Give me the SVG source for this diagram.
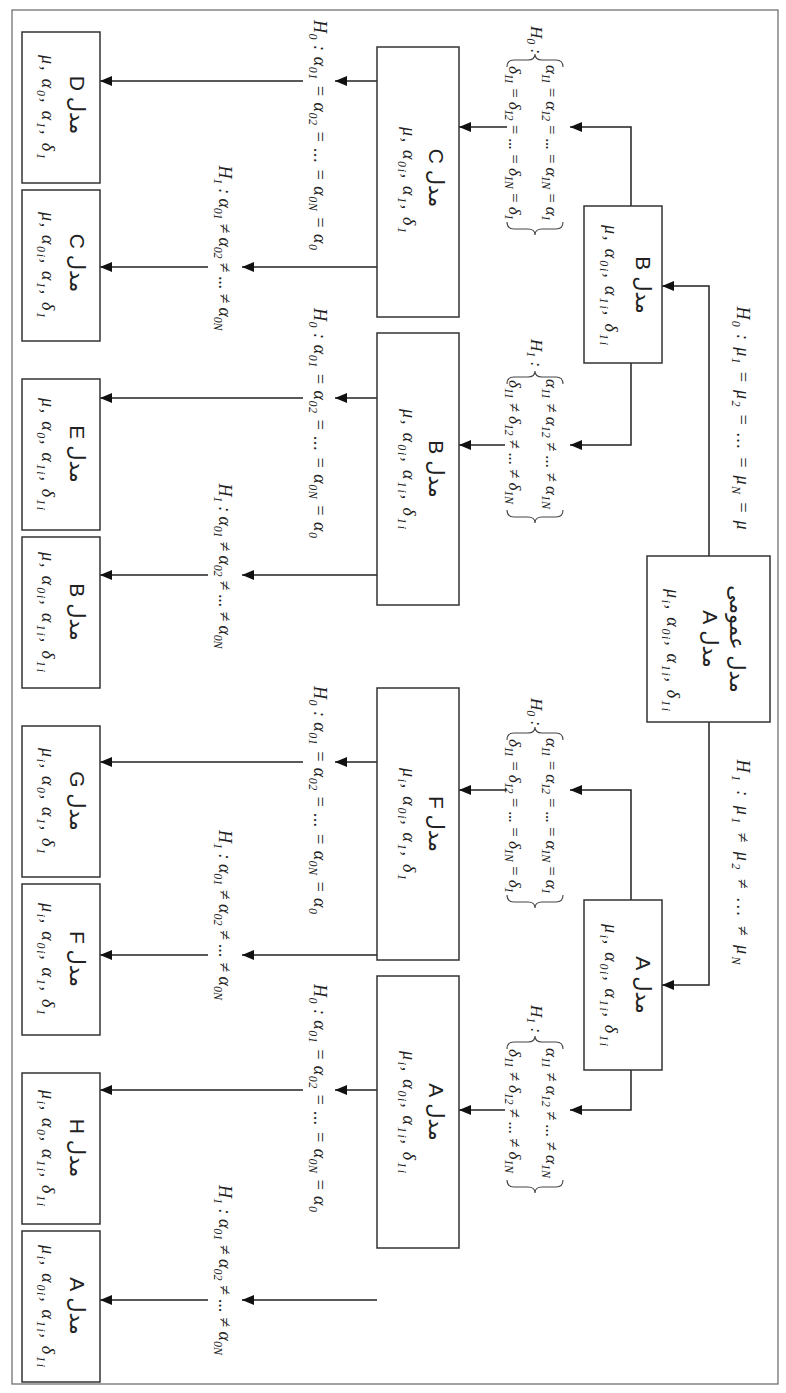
<svg xmlns="http://www.w3.org/2000/svg" width="786" height="1393" viewBox="0 0 786 1393">
<defs>
<marker id="ah" markerWidth="12" markerHeight="10" refX="12" refY="5" orient="auto" markerUnits="userSpaceOnUse"><path d="M0,0 L12,5 L0,10 z" fill="#111"/></marker>
<style>
.box{fill:#fff;stroke:#333;stroke-width:1.5}
.ln{fill:none;stroke:#222;stroke-width:1.5}
.ar{marker-end:url(#ah)}
.br{fill:none;stroke:#444;stroke-width:1.1}
.fa{font-family:"Liberation Sans","DejaVu Sans",sans-serif;font-size:21px;fill:#222;direction:rtl;text-anchor:middle}
.m{font-family:"Liberation Serif","DejaVu Serif",serif;font-style:italic;font-size:18px;fill:#222;text-anchor:middle}
.b{font-size:17px}
.sb{font-size:12px}
</style>
</defs>
<rect x="12" y="10" width="766" height="1374" fill="none" stroke="#666" stroke-width="1.2"/>

<g id="connectors">
<path class="ln ar" d="M709,556 V286 H662"/>
<path class="ln ar" d="M709,722 V985 H662"/>
<path class="ln ar" d="M631,206 V127 H570"/><path class="ln ar" d="M507,127 H459"/>
<path class="ln ar" d="M631,363 V445 H570"/><path class="ln ar" d="M505,445 H459"/>
<path class="ln ar" d="M631,900 V790 H570"/><path class="ln ar" d="M507,790 H459"/>
<path class="ln ar" d="M631,1070 V1110 H570"/><path class="ln ar" d="M505,1110 H459"/>
<path class="ln ar" d="M377,81 H335"/><path class="ln ar" d="M303,81 H100"/>
<path class="ln ar" d="M377,267 H242"/><path class="ln ar" d="M208,267 H100"/>
<path class="ln ar" d="M377,398 H335"/><path class="ln ar" d="M303,398 H100"/>
<path class="ln ar" d="M377,575 H242"/><path class="ln ar" d="M208,575 H100"/>
<path class="ln ar" d="M377,762 H335"/><path class="ln ar" d="M303,762 H100"/>
<path class="ln ar" d="M377,955 H242"/><path class="ln ar" d="M208,955 H100"/>
<path class="ln ar" d="M377,1090 H335"/><path class="ln ar" d="M303,1090 H100"/>
<path class="ln ar" d="M377,1300 H242"/><path class="ln ar" d="M208,1300 H100"/>
</g>

<g id="labels">
<text class="m" transform="translate(737,418) rotate(90)" textLength="223" lengthAdjust="spacing">H<tspan class="sb" dy="5">0</tspan><tspan dy="-5"> : μ</tspan><tspan class="sb" dy="5">1</tspan><tspan dy="-5"> = μ</tspan><tspan class="sb" dy="5">2</tspan><tspan dy="-5"> = ... = μ</tspan><tspan class="sb" dy="5">N</tspan><tspan dy="-5"> = μ</tspan></text>
<text class="m" transform="translate(737,862) rotate(90)" textLength="205" lengthAdjust="spacing">H<tspan class="sb" dy="5">1</tspan><tspan dy="-5"> : μ</tspan><tspan class="sb" dy="5">1</tspan><tspan dy="-5"> ≠ μ</tspan><tspan class="sb" dy="5">2</tspan><tspan dy="-5"> ≠ ... ≠ μ</tspan><tspan class="sb" dy="5">N</tspan></text>

<!-- B H0 brace -->
<text class="m b" transform="translate(531,40) rotate(90)">H<tspan class="sb" dy="4">0</tspan><tspan dy="-4"> :</tspan></text>
<path class="br" d="M507,67 Q507,60 514,60 L528,60 Q535,60 535,54 Q535,60 542,60 L556,60 Q563,60 563,67"/>
<text class="m b" transform="translate(546,143) rotate(90)" textLength="156" lengthAdjust="spacing">α<tspan class="sb" dy="4">11</tspan><tspan dy="-4"> = α</tspan><tspan class="sb" dy="4">12</tspan><tspan dy="-4"> = ... = α</tspan><tspan class="sb" dy="4">1N</tspan><tspan dy="-4"> = α</tspan><tspan class="sb" dy="4">1</tspan></text>
<text class="m b" transform="translate(509,143) rotate(90)" textLength="154" lengthAdjust="spacing">δ<tspan class="sb" dy="4">11</tspan><tspan dy="-4"> = δ</tspan><tspan class="sb" dy="4">12</tspan><tspan dy="-4"> = ... = δ</tspan><tspan class="sb" dy="4">1N</tspan><tspan dy="-4"> = δ</tspan><tspan class="sb" dy="4">1</tspan></text>
<path class="br" d="M507,222 Q507,229 514,229 L528,229 Q535,229 535,235 Q535,229 542,229 L556,229 Q563,229 563,222"/>

<!-- B H1 brace -->
<text class="m b" transform="translate(531,353) rotate(90)">H<tspan class="sb" dy="4">1</tspan><tspan dy="-4"> :</tspan></text>
<path class="br" d="M507,384 Q507,377 514,377 L528,377 Q535,377 535,371 Q535,377 542,377 L556,377 Q563,377 563,384"/>
<text class="m b" transform="translate(546,444) rotate(90)" textLength="130" lengthAdjust="spacing">α<tspan class="sb" dy="4">11</tspan><tspan dy="-4"> ≠ α</tspan><tspan class="sb" dy="4">12</tspan><tspan dy="-4"> ≠ ... ≠ α</tspan><tspan class="sb" dy="4">1N</tspan></text>
<text class="m b" transform="translate(509,442) rotate(90)" textLength="124" lengthAdjust="spacing">δ<tspan class="sb" dy="4">11</tspan><tspan dy="-4"> ≠ δ</tspan><tspan class="sb" dy="4">12</tspan><tspan dy="-4"> ≠ ... ≠ δ</tspan><tspan class="sb" dy="4">1N</tspan></text>
<path class="br" d="M507,510 Q507,517 514,517 L528,517 Q535,517 535,523 Q535,517 542,517 L556,517 Q563,517 563,510"/>

<!-- A H0 brace -->
<text class="m b" transform="translate(531,712) rotate(90)">H<tspan class="sb" dy="4">0</tspan><tspan dy="-4"> :</tspan></text>
<path class="br" d="M507,740 Q507,733 514,733 L528,733 Q535,733 535,727 Q535,733 542,733 L556,733 Q563,733 563,740"/>
<text class="m b" transform="translate(546,816) rotate(90)" textLength="156" lengthAdjust="spacing">α<tspan class="sb" dy="4">11</tspan><tspan dy="-4"> = α</tspan><tspan class="sb" dy="4">12</tspan><tspan dy="-4"> = ... = α</tspan><tspan class="sb" dy="4">1N</tspan><tspan dy="-4"> = α</tspan><tspan class="sb" dy="4">1</tspan></text>
<text class="m b" transform="translate(509,816) rotate(90)" textLength="154" lengthAdjust="spacing">δ<tspan class="sb" dy="4">11</tspan><tspan dy="-4"> = δ</tspan><tspan class="sb" dy="4">12</tspan><tspan dy="-4"> = ... = δ</tspan><tspan class="sb" dy="4">1N</tspan><tspan dy="-4"> = δ</tspan><tspan class="sb" dy="4">1</tspan></text>
<path class="br" d="M507,895 Q507,902 514,902 L528,902 Q535,902 535,908 Q535,902 542,902 L556,902 Q563,902 563,895"/>

<!-- A H1 brace -->
<text class="m b" transform="translate(531,1019) rotate(90)">H<tspan class="sb" dy="4">1</tspan><tspan dy="-4"> :</tspan></text>
<path class="br" d="M507,1049 Q507,1042 514,1042 L528,1042 Q535,1042 535,1036 Q535,1042 542,1042 L556,1042 Q563,1042 563,1049"/>
<text class="m b" transform="translate(546,1113) rotate(90)" textLength="130" lengthAdjust="spacing">α<tspan class="sb" dy="4">11</tspan><tspan dy="-4"> ≠ α</tspan><tspan class="sb" dy="4">12</tspan><tspan dy="-4"> ≠ ... ≠ α</tspan><tspan class="sb" dy="4">1N</tspan></text>
<text class="m b" transform="translate(509,1111) rotate(90)" textLength="124" lengthAdjust="spacing">δ<tspan class="sb" dy="4">11</tspan><tspan dy="-4"> ≠ δ</tspan><tspan class="sb" dy="4">12</tspan><tspan dy="-4"> ≠ ... ≠ δ</tspan><tspan class="sb" dy="4">1N</tspan></text>
<path class="br" d="M507,1180 Q507,1187 514,1187 L528,1187 Q535,1187 535,1193 Q535,1187 542,1187 L556,1187 Q563,1187 563,1180"/>

<!-- level 2 labels -->
<text class="m" transform="translate(314,135) rotate(90)" textLength="230" lengthAdjust="spacing">H<tspan class="sb" dy="5">0</tspan><tspan dy="-5"> : α</tspan><tspan class="sb" dy="5">01</tspan><tspan dy="-5"> = α</tspan><tspan class="sb" dy="5">02</tspan><tspan dy="-5"> = ... = α</tspan><tspan class="sb" dy="5">0N</tspan><tspan dy="-5"> = α</tspan><tspan class="sb" dy="5">0</tspan></text>
<text class="m" transform="translate(219,248) rotate(90)" textLength="165" lengthAdjust="spacing">H<tspan class="sb" dy="5">1</tspan><tspan dy="-5"> : α</tspan><tspan class="sb" dy="5">01</tspan><tspan dy="-5"> ≠ α</tspan><tspan class="sb" dy="5">02</tspan><tspan dy="-5"> ≠ ... ≠ α</tspan><tspan class="sb" dy="5">0N</tspan></text>
<text class="m" transform="translate(314,423) rotate(90)" textLength="230" lengthAdjust="spacing">H<tspan class="sb" dy="5">0</tspan><tspan dy="-5"> : α</tspan><tspan class="sb" dy="5">01</tspan><tspan dy="-5"> = α</tspan><tspan class="sb" dy="5">02</tspan><tspan dy="-5"> = ... = α</tspan><tspan class="sb" dy="5">0N</tspan><tspan dy="-5"> = α</tspan><tspan class="sb" dy="5">0</tspan></text>
<text class="m" transform="translate(219,566) rotate(90)" textLength="165" lengthAdjust="spacing">H<tspan class="sb" dy="5">1</tspan><tspan dy="-5"> : α</tspan><tspan class="sb" dy="5">01</tspan><tspan dy="-5"> ≠ α</tspan><tspan class="sb" dy="5">02</tspan><tspan dy="-5"> ≠ ... ≠ α</tspan><tspan class="sb" dy="5">0N</tspan></text>
<text class="m" transform="translate(314,800) rotate(90)" textLength="228" lengthAdjust="spacing">H<tspan class="sb" dy="5">0</tspan><tspan dy="-5"> : α</tspan><tspan class="sb" dy="5">01</tspan><tspan dy="-5"> = α</tspan><tspan class="sb" dy="5">02</tspan><tspan dy="-5"> = ... = α</tspan><tspan class="sb" dy="5">0N</tspan><tspan dy="-5"> = α</tspan><tspan class="sb" dy="5">0</tspan></text>
<text class="m" transform="translate(219,915) rotate(90)" textLength="170" lengthAdjust="spacing">H<tspan class="sb" dy="5">1</tspan><tspan dy="-5"> : α</tspan><tspan class="sb" dy="5">01</tspan><tspan dy="-5"> ≠ α</tspan><tspan class="sb" dy="5">02</tspan><tspan dy="-5"> ≠ ... ≠ α</tspan><tspan class="sb" dy="5">0N</tspan></text>
<text class="m" transform="translate(314,1098) rotate(90)" textLength="228" lengthAdjust="spacing">H<tspan class="sb" dy="5">0</tspan><tspan dy="-5"> : α</tspan><tspan class="sb" dy="5">01</tspan><tspan dy="-5"> = α</tspan><tspan class="sb" dy="5">02</tspan><tspan dy="-5"> = ... = α</tspan><tspan class="sb" dy="5">0N</tspan><tspan dy="-5"> = α</tspan><tspan class="sb" dy="5">0</tspan></text>
<text class="m" transform="translate(219,1270) rotate(90)" textLength="170" lengthAdjust="spacing">H<tspan class="sb" dy="5">1</tspan><tspan dy="-5"> : α</tspan><tspan class="sb" dy="5">01</tspan><tspan dy="-5"> ≠ α</tspan><tspan class="sb" dy="5">02</tspan><tspan dy="-5"> ≠ ... ≠ α</tspan><tspan class="sb" dy="5">0N</tspan></text>
</g>

<g id="root">
<rect class="box" x="647" y="556" width="123" height="166"/>
<text class="fa" transform="translate(730,639) rotate(90)">مدل عمومی</text>
<text class="fa" transform="translate(703,639) rotate(90)">مدل A</text>
<text class="m" transform="translate(667,650) rotate(90)" textLength="122" lengthAdjust="spacing">μ<tspan class="sb" dy="5">i</tspan><tspan dy="-5">, α</tspan><tspan class="sb" dy="5">0i</tspan><tspan dy="-5">, α</tspan><tspan class="sb" dy="5">1i</tspan><tspan dy="-5">, δ</tspan><tspan class="sb" dy="5">1i</tspan></text>
</g>

<g id="nodeB">
<rect class="box" x="584" y="206" width="78" height="157"/>
<text class="fa" transform="translate(636,285) rotate(90)">مدل B</text>
<text class="m" transform="translate(605,285) rotate(90)" textLength="120" lengthAdjust="spacing">μ, α<tspan class="sb" dy="5">0i</tspan><tspan dy="-5">, α</tspan><tspan class="sb" dy="5">1i</tspan><tspan dy="-5">, δ</tspan><tspan class="sb" dy="5">1i</tspan></text>
</g>
<g id="nodeA">
<rect class="box" x="584" y="900" width="78" height="170"/>
<text class="fa" transform="translate(636,985) rotate(90)">مدل A</text>
<text class="m" transform="translate(605,985) rotate(90)" textLength="122" lengthAdjust="spacing">μ<tspan class="sb" dy="5">i</tspan><tspan dy="-5">, α</tspan><tspan class="sb" dy="5">0i</tspan><tspan dy="-5">, α</tspan><tspan class="sb" dy="5">1i</tspan><tspan dy="-5">, δ</tspan><tspan class="sb" dy="5">1i</tspan></text>
</g>

<g id="nodeC">
<rect class="box" x="377" y="47" width="82" height="270"/>
<text class="fa" transform="translate(429,178) rotate(90)">مدل C</text>
<text class="m" transform="translate(403,180) rotate(90)" textLength="106" lengthAdjust="spacing">μ, α<tspan class="sb" dy="5">0i</tspan><tspan dy="-5">, α</tspan><tspan class="sb" dy="5">1</tspan><tspan dy="-5">, δ</tspan><tspan class="sb" dy="5">1</tspan></text>
</g>
<g id="nodeB2">
<rect class="box" x="377" y="333" width="82" height="272"/>
<text class="fa" transform="translate(429,469) rotate(90)">مدل B</text>
<text class="m" transform="translate(403,469) rotate(90)" textLength="120" lengthAdjust="spacing">μ, α<tspan class="sb" dy="5">0i</tspan><tspan dy="-5">, α</tspan><tspan class="sb" dy="5">1i</tspan><tspan dy="-5">, δ</tspan><tspan class="sb" dy="5">1i</tspan></text>
</g>
<g id="nodeF">
<rect class="box" x="377" y="688" width="82" height="272"/>
<text class="fa" transform="translate(429,824) rotate(90)">مدل F</text>
<text class="m" transform="translate(403,824) rotate(90)" textLength="112" lengthAdjust="spacing">μ<tspan class="sb" dy="5">i</tspan><tspan dy="-5">, α</tspan><tspan class="sb" dy="5">0i</tspan><tspan dy="-5">, α</tspan><tspan class="sb" dy="5">1</tspan><tspan dy="-5">, δ</tspan><tspan class="sb" dy="5">1</tspan></text>
</g>
<g id="nodeA2">
<rect class="box" x="377" y="976" width="82" height="272"/>
<text class="fa" transform="translate(429,1112) rotate(90)">مدل A</text>
<text class="m" transform="translate(403,1112) rotate(90)" textLength="122" lengthAdjust="spacing">μ<tspan class="sb" dy="5">i</tspan><tspan dy="-5">, α</tspan><tspan class="sb" dy="5">0i</tspan><tspan dy="-5">, α</tspan><tspan class="sb" dy="5">1i</tspan><tspan dy="-5">, δ</tspan><tspan class="sb" dy="5">1i</tspan></text>
</g>

<g id="nodeD">
<rect class="box" x="22" y="32" width="78" height="151"/>
<text class="fa" transform="translate(70,105) rotate(90)">مدل D</text>
<text class="m" transform="translate(42,107) rotate(90)" textLength="104" lengthAdjust="spacing">μ, α<tspan class="sb" dy="5">0</tspan><tspan dy="-5">, α</tspan><tspan class="sb" dy="5">1</tspan><tspan dy="-5">, δ</tspan><tspan class="sb" dy="5">1</tspan></text>
</g>
<g id="nodeC2">
<rect class="box" x="22" y="190" width="78" height="151"/>
<text class="fa" transform="translate(70,263) rotate(90)">مدل C</text>
<text class="m" transform="translate(42,265) rotate(90)" textLength="106" lengthAdjust="spacing">μ, α<tspan class="sb" dy="5">0i</tspan><tspan dy="-5">, α</tspan><tspan class="sb" dy="5">1</tspan><tspan dy="-5">, δ</tspan><tspan class="sb" dy="5">1</tspan></text>
</g>
<g id="nodeE">
<rect class="box" x="22" y="379" width="78" height="151"/>
<text class="fa" transform="translate(70,454) rotate(90)">مدل E</text>
<text class="m" transform="translate(42,454) rotate(90)" textLength="112" lengthAdjust="spacing">μ, α<tspan class="sb" dy="5">0</tspan><tspan dy="-5">, α</tspan><tspan class="sb" dy="5">1i</tspan><tspan dy="-5">, δ</tspan><tspan class="sb" dy="5">1i</tspan></text>
</g>
<g id="nodeB3">
<rect class="box" x="22" y="537" width="78" height="151"/>
<text class="fa" transform="translate(70,612) rotate(90)">مدل B</text>
<text class="m" transform="translate(42,612) rotate(90)" textLength="120" lengthAdjust="spacing">μ, α<tspan class="sb" dy="5">0i</tspan><tspan dy="-5">, α</tspan><tspan class="sb" dy="5">1i</tspan><tspan dy="-5">, δ</tspan><tspan class="sb" dy="5">1i</tspan></text>
</g>
<g id="nodeG">
<rect class="box" x="22" y="726" width="78" height="151"/>
<text class="fa" transform="translate(70,801) rotate(90)">مدل G</text>
<text class="m" transform="translate(42,801) rotate(90)" textLength="106" lengthAdjust="spacing">μ<tspan class="sb" dy="5">i</tspan><tspan dy="-5">, α</tspan><tspan class="sb" dy="5">0</tspan><tspan dy="-5">, α</tspan><tspan class="sb" dy="5">1</tspan><tspan dy="-5">, δ</tspan><tspan class="sb" dy="5">1</tspan></text>
</g>
<g id="nodeF2">
<rect class="box" x="22" y="884" width="78" height="151"/>
<text class="fa" transform="translate(70,959) rotate(90)">مدل F</text>
<text class="m" transform="translate(42,959) rotate(90)" textLength="112" lengthAdjust="spacing">μ<tspan class="sb" dy="5">i</tspan><tspan dy="-5">, α</tspan><tspan class="sb" dy="5">0i</tspan><tspan dy="-5">, α</tspan><tspan class="sb" dy="5">1</tspan><tspan dy="-5">, δ</tspan><tspan class="sb" dy="5">1</tspan></text>
</g>
<g id="nodeH">
<rect class="box" x="22" y="1073" width="78" height="151"/>
<text class="fa" transform="translate(70,1148) rotate(90)">مدل H</text>
<text class="m" transform="translate(42,1148) rotate(90)" textLength="116" lengthAdjust="spacing">μ<tspan class="sb" dy="5">i</tspan><tspan dy="-5">, α</tspan><tspan class="sb" dy="5">0</tspan><tspan dy="-5">, α</tspan><tspan class="sb" dy="5">1i</tspan><tspan dy="-5">, δ</tspan><tspan class="sb" dy="5">1i</tspan></text>
</g>
<g id="nodeA3">
<rect class="box" x="22" y="1231" width="78" height="151"/>
<text class="fa" transform="translate(70,1306) rotate(90)">مدل A</text>
<text class="m" transform="translate(42,1306) rotate(90)" textLength="122" lengthAdjust="spacing">μ<tspan class="sb" dy="5">i</tspan><tspan dy="-5">, α</tspan><tspan class="sb" dy="5">0i</tspan><tspan dy="-5">, α</tspan><tspan class="sb" dy="5">1i</tspan><tspan dy="-5">, δ</tspan><tspan class="sb" dy="5">1i</tspan></text>
</g>
</svg>
